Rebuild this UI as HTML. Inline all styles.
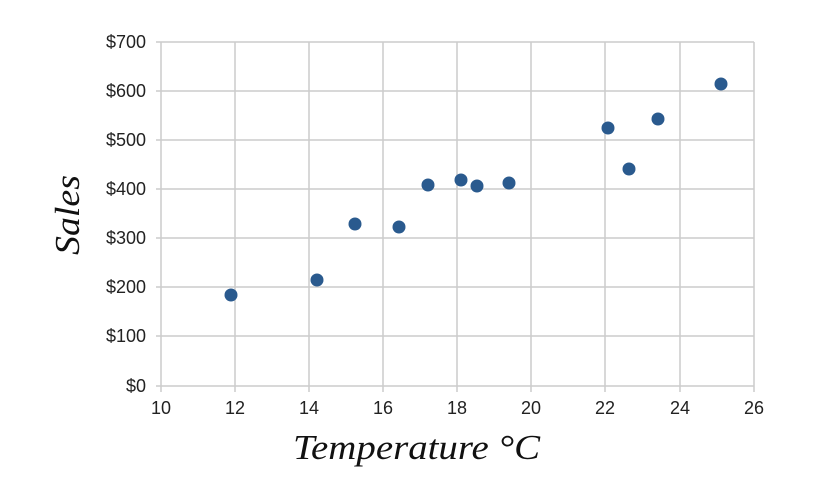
<!DOCTYPE html>
<html><head><meta charset="utf-8"><style>body{margin:0;background:#fff}</style></head>
<body>
<svg width="823" height="480" xmlns="http://www.w3.org/2000/svg">
<rect width="823" height="480" fill="#fff"/>
<g stroke="#cccccc" stroke-width="1.5" fill="none">
<line x1="156" y1="42" x2="754" y2="42"/>
<line x1="156" y1="91" x2="754" y2="91"/>
<line x1="156" y1="140" x2="754" y2="140"/>
<line x1="156" y1="189" x2="754" y2="189"/>
<line x1="156" y1="238" x2="754" y2="238"/>
<line x1="156" y1="287" x2="754" y2="287"/>
<line x1="156" y1="336" x2="754" y2="336"/>
<line x1="156" y1="386" x2="754" y2="386"/>
<line x1="161" y1="42" x2="161" y2="392"/>
<line x1="235" y1="42" x2="235" y2="392"/>
<line x1="309" y1="42" x2="309" y2="392"/>
<line x1="383" y1="42" x2="383" y2="392"/>
<line x1="457" y1="42" x2="457" y2="392"/>
<line x1="531" y1="42" x2="531" y2="392"/>
<line x1="605" y1="42" x2="605" y2="392"/>
<line x1="680" y1="42" x2="680" y2="392"/>
<line x1="754" y1="42" x2="754" y2="392"/>
</g>
<g font-family="Liberation Sans, sans-serif" font-size="18" fill="#222" text-anchor="end">
<text x="146" y="48">$700</text><text x="146" y="97">$600</text><text x="146" y="146">$500</text>
<text x="146" y="195">$400</text><text x="146" y="244">$300</text><text x="146" y="293">$200</text>
<text x="146" y="342">$100</text><text x="146" y="392">$0</text>
</g>
<g font-family="Liberation Sans, sans-serif" font-size="18" fill="#222" text-anchor="middle">
<text x="161" y="414">10</text><text x="235" y="414">12</text><text x="309" y="414">14</text>
<text x="383" y="414">16</text><text x="457" y="414">18</text><text x="531" y="414">20</text>
<text x="605" y="414">22</text><text x="680" y="414">24</text><text x="754" y="414">26</text>
</g>
<g fill="#2a5a8e">
<circle cx="231" cy="295" r="6.5"/><circle cx="317" cy="280" r="6.5"/><circle cx="355" cy="224" r="6.5"/>
<circle cx="399" cy="227" r="6.5"/><circle cx="428" cy="185" r="6.5"/><circle cx="461" cy="180" r="6.5"/>
<circle cx="477" cy="186" r="6.5"/><circle cx="509" cy="183" r="6.5"/><circle cx="608" cy="128" r="6.5"/>
<circle cx="629" cy="169" r="6.5"/><circle cx="658" cy="119" r="6.5"/><circle cx="721" cy="84" r="6.5"/>
</g>
<text x="293" y="459" font-family="Liberation Serif, serif" font-style="italic" font-size="35" fill="#111" textLength="247" lengthAdjust="spacingAndGlyphs">Temperature °C</text>
<text transform="translate(79,255) rotate(-90)" font-family="Liberation Serif, serif" font-style="italic" font-size="35" fill="#111" textLength="80" lengthAdjust="spacingAndGlyphs">Sales</text>
</svg>
</body></html>
